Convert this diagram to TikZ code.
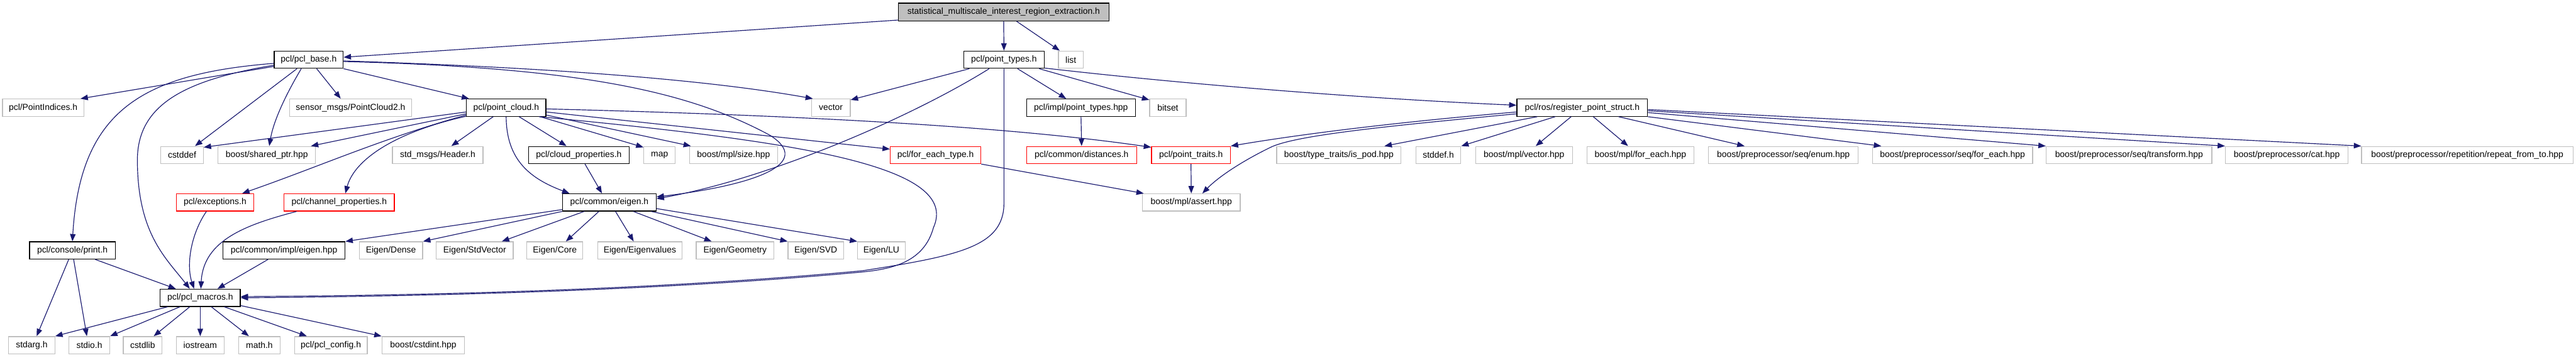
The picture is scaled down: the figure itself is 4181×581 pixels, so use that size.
\documentclass[tikz,border=0pt]{standalone}
\usepackage{fontspec}
\setmainfont{Liberation Sans}
\usetikzlibrary{arrows.meta,calc}
\definecolor{edgec}{RGB}{25,25,112}
\definecolor{greyb}{RGB}{191,191,191}
\newcommand{\fsz}{\fontsize{14.2}{17}\selectfont}
\tikzset{
  box/.style={rectangle, minimum height=28pt, inner sep=0pt, line width=1.3pt, font=\fsz, fill=white},
  bk/.style={box, draw=black},
  gr/.style={box, draw=greyb},
  rd/.style={box, draw=red},
  mainbox/.style={box, draw=black, fill=greyb, minimum height=29pt},
  edge/.style={draw=edgec, line width=1.2pt, -{Triangle[length=12pt,width=9pt]}}
}
\begin{document}
\begin{tikzpicture}[x=1pt,y=-1pt]
\useasboundingbox (0,0) rectangle (4181,581);
% row 0
\node[mainbox, minimum width=342pt] (main) at (1629,19.5) {statistical\_multiscale\_interest\_region\_extraction.h};
% row 1
\node[bk, minimum width=112pt] (pcl_base) at (501,97) {pcl/pcl\_base.h};
\node[bk, minimum width=131pt] (point_types) at (1629.5,97) {pcl/point\_types.h};
\node[gr, minimum width=40pt] (list) at (1738,97) {list};
% row 2
\node[gr, minimum width=132pt] (PointIndices) at (70,175) {pcl/PointIndices.h};
\node[gr, minimum width=198pt] (PointCloud2) at (569,175) {sensor\_msgs/PointCloud2.h};
\node[bk, minimum width=129pt] (point_cloud) at (821.5,175) {pcl/point\_cloud.h};
\node[gr, minimum width=63pt] (vector) at (1348.5,175) {vector};
\node[bk, minimum width=177pt] (impl_pt) at (1754.5,175) {pcl/impl/point\_types.hpp};
\node[gr, minimum width=59pt] (bitset) at (1895.5,175) {bitset};
\node[bk, minimum width=212pt] (register) at (2568,175) {pcl/ros/register\_point\_struct.h};
% row 3
\node[gr, minimum width=69pt] (cstddef) at (295.5,252) {cstddef};
\node[gr, minimum width=158pt] (shared_ptr) at (433,252) {boost/shared\_ptr.hpp};
\node[gr, minimum width=147pt] (Header) at (710.5,252) {std\_msgs/Header.h};
\node[bk, minimum width=163pt] (cloud_props) at (939.5,252) {pcl/cloud\_properties.h};
\node[gr, minimum width=51pt] (map) at (1070.5,252) {map};
\node[gr, minimum width=143pt] (size) at (1190.5,252) {boost/mpl/size.hpp};
\node[rd, minimum width=147pt] (for_each_type) at (1518.5,252) {pcl/for\_each\_type.h};
\node[rd, minimum width=179pt] (distances) at (1755.5,252) {pcl/common/distances.h};
\node[rd, minimum width=128pt] (point_traits) at (1933,252) {pcl/point\_traits.h};
\node[gr, minimum width=202pt] (is_pod) at (2173,252) {boost/type\_traits/is\_pod.hpp};
\node[gr, minimum width=73pt] (stddef) at (2334.5,252) {stddef.h};
\node[gr, minimum width=157pt] (mplvector) at (2473.5,252) {boost/mpl/vector.hpp};
\node[gr, minimum width=173pt] (mplforeach) at (2662.5,252) {boost/mpl/for\_each.hpp};
\node[gr, minimum width=243pt] (seqenum) at (2894.5,252) {boost/preprocessor/seq/enum.hpp};
\node[gr, minimum width=260pt] (seqforeach) at (3169,252) {boost/preprocessor/seq/for\_each.hpp};
\node[gr, minimum width=269pt] (seqtransform) at (3455.5,252) {boost/preprocessor/seq/transform.hpp};
\node[gr, minimum width=199pt] (cat) at (3711.5,252) {boost/preprocessor/cat.hpp};
\node[gr, minimum width=343pt] (repeat) at (4004.5,252) {boost/preprocessor/repetition/repeat\_from\_to.hpp};
% row 4
\node[rd, minimum width=126pt] (exceptions) at (349,329) {pcl/exceptions.h};
\node[rd, minimum width=179pt] (channel) at (550.5,329) {pcl/channel\_properties.h};
\node[bk, minimum width=152pt] (eigen_h) at (989,329) {pcl/common/eigen.h};
\node[gr, minimum width=159pt] (assert) at (1933.5,329) {boost/mpl/assert.hpp};
% row 5
\node[bk, minimum width=139pt] (print) at (117.5,407) {pcl/console/print.h};
\node[bk, minimum width=198pt] (impl_eigen) at (461,407) {pcl/common/impl/eigen.hpp};
\node[gr, minimum width=103pt] (Dense) at (634.5,407) {Eigen/Dense};
\node[gr, minimum width=125pt] (StdVector) at (770.5,407) {Eigen/StdVector};
\node[gr, minimum width=91pt] (Core) at (900.5,407) {Eigen/Core};
\node[gr, minimum width=137pt] (Eigenvalues) at (1038.5,407) {Eigen/Eigenvalues};
\node[gr, minimum width=126pt] (Geometry) at (1193,407) {Eigen/Geometry};
\node[gr, minimum width=90pt] (SVD) at (1324,407) {Eigen/SVD};
\node[gr, minimum width=77pt] (LU) at (1430.5,407) {Eigen/LU};
% row 6
\node[bk, minimum width=130pt] (macros) at (325,484) {pcl/pcl\_macros.h};
% row 7
\node[gr, minimum width=75pt] (stdarg) at (51.5,561) {stdarg.h};
\node[gr, minimum width=66pt] (stdio) at (145,561) {stdio.h};
\node[gr, minimum width=63pt] (cstdlib) at (231.5,561) {cstdlib};
\node[gr, minimum width=78pt] (iostream) at (325,561) {iostream};
\node[gr, minimum width=68pt] (math) at (421,561) {math.h};
\node[gr, minimum width=118pt] (pcl_config) at (537,561) {pcl/pcl\_config.h};
\node[gr, minimum width=134pt] (cstdint) at (687,561) {boost/cstdint.hpp};

% ---- edges: main
\draw[edge] ($(main.south west)+(0,-2)$) -- ($(pcl_base.east)+(0,-4)$);
\draw[edge] (main.south) -- (point_types.north);
\draw[edge] ($(main.south)+(21,0)$) -- ($(list.north)+(-18,0)$);
% ---- pcl_base
\draw[edge] ($(pcl_base.west)+(0,11)$) -- ($(PointIndices.north east)+(-6,0)$);
\draw[edge] ($(pcl_base.south)+(13,0)$) -- ($(PointCloud2.north)+(-16,0)$);
\draw[edge] ($(pcl_base.south)+(-19,0)$) -- ($(cstddef.north)+(21,0)$);
\draw[edge] ($(pcl_base.south)+(-12,0)$) .. controls (472,140) and (445,190) .. ($(shared_ptr.north)+(4,0)$);
\draw[edge] ($(pcl_base.east)+(0,2)$) .. controls (900,110) and (1150,130) .. ($(vector.north west)+(3,0)$);
\draw[edge] ($(pcl_base.east)+(0,3)$) .. controls (950,110) and (1120,150) .. (1250,220) .. controls (1320,265) and (1230,300) .. ($(eigen_h.east)+(0,-9)$);
\draw[edge] (pcl_base.south east) -- ($(point_cloud.north west)+(5,0)$);
\draw[edge] ($(pcl_base.west)+(0,6)$) .. controls (230,120) and (130,180) .. (print.north);
\draw[edge] ($(pcl_base.west)+(0,9)$) .. controls (300,130) and (223,170) .. (223,260) .. controls (223,380) and (270,420) .. ($(macros.north)+(-17,0)$);
% ---- point_types
\draw[edge] ($(point_types.south west)+(10,0)$) -- ($(vector.north east)+(0,2)$);
\draw[edge] ($(point_types.south)+(-24,0)$) .. controls (1480,190) and (1250,290) .. ($(eigen_h.east)+(0,-6)$);
\draw[edge] (point_types.south) -- ($(point_types.south)+(0,218)$) .. controls (1629.5,400) and (1560,415) .. (1400,440) .. controls (1100,468) and (750,480) .. ($(macros.east)+(0,-2)$);
\draw[edge] ($(point_types.south)+(22,0)$) -- ($(impl_pt.north)+(-24,0)$);
\draw[edge] ($(point_types.south east)+(-9,0)$) -- ($(bitset.north west)+(0,2)$);
\draw[edge] ($(point_types.south east)+(0,-1)$) .. controls (1950,140) and (2250,162) .. ($(register.west)+(0,-4)$);
% ---- point_cloud
\draw[edge] ($(point_cloud.south)+(-21,0)$) -- ($(Header.north)+(22,0)$);
\draw[edge] ($(point_cloud.south)+(21,0)$) -- ($(cloud_props.north)+(-20,0)$);
\draw[edge] ($(point_cloud.south east)+(-10,0)$) -- ($(map.north west)+(0,2)$);
\draw[edge] ($(point_cloud.east)+(0,12)$) -- ($(size.north west)+(3,0)$);
\draw[edge] (point_cloud.south) .. controls (822,260) and (860,290) .. ($(eigen_h.north west)+(12,0)$);
\draw[edge] ($(point_cloud.west)+(0,7)$) -- ($(cstddef.north east)+(0,2)$);
\draw[edge] ($(point_cloud.west)+(0,10)$) -- ($(shared_ptr.north east)+(-8,0)$);
\draw[edge] ($(point_cloud.west)+(0,12)$) .. controls (620,225) and (520,270) .. ($(exceptions.north)+(44,0)$);
\draw[edge] ($(point_cloud.west)+(0,14)$) .. controls (640,215) and (575,260) .. ($(channel.north)+(10,0)$);
\draw[edge] ($(point_cloud.east)+(0,2)$) .. controls (1200,185) and (1600,200) .. ($(point_traits.north west)+(0,2)$);
\draw[edge] ($(point_cloud.east)+(0,7)$) -- ($(for_each_type.north west)+(0,5)$);
\draw[edge] ($(point_cloud.south east)+(-12,0)$) .. controls (1300,230) and (1560,270) .. (1515,370) .. controls (1500,425) and (1450,437) .. (1400,442) .. controls (1100,470) and (750,481) .. (macros.east);
% ---- others into eigen / macros
\draw[edge] ($(cloud_props.south)+(10,0)$) -- ($(eigen_h.north)+(-12,0)$);
\draw[edge] ($(exceptions.south)+(-14,0)$) .. controls (310,380) and (302,430) .. ($(macros.north)+(-10,0)$);
\draw[edge] ($(channel.south west)+(21,0)$) .. controls (400,365) and (330,390) .. ($(macros.north)+(1,0)$);
\draw[edge] ($(print.south)+(37,0)$) -- ($(macros.north west)+(26,0)$);
\draw[edge] ($(print.south)+(-6,0)$) -- ($(stdarg.north)+(8,0)$);
\draw[edge] ($(print.south)+(2,0)$) -- ($(stdio.north)+(-4,0)$);
\draw[edge] ($(impl_eigen.south)+(-26,0)$) -- ($(macros.north)+(28,0)$);
% ---- eigen.h
\draw[edge] ($(eigen_h.south west)+(0,-3)$) -- (impl_eigen.north east);
\draw[edge] (eigen_h.south west) -- (Dense.north east);
\draw[edge] ($(eigen_h.south)+(-41,0)$) -- ($(StdVector.north)+(44,0)$);
\draw[edge] ($(eigen_h.south)+(-17,0)$) -- ($(Core.north)+(18,0)$);
\draw[edge] ($(eigen_h.south)+(10,0)$) -- ($(Eigenvalues.north)+(-10,0)$);
\draw[edge] ($(eigen_h.south)+(39,0)$) -- ($(Geometry.north)+(-38,0)$);
\draw[edge] ($(eigen_h.south)+(68,0)$) -- (SVD.north west);
\draw[edge] ($(eigen_h.east)+(0,10)$) -- (LU.north west);
% ---- pcl_macros
\draw[edge] ($(macros.south)+(-53,0)$) -- (stdarg.north east);
\draw[edge] ($(macros.south)+(-33,0)$) -- (stdio.north east);
\draw[edge] ($(macros.south)+(-17,0)$) -- ($(cstdlib.north)+(18,0)$);
\draw[edge] (macros.south) -- (iostream.north);
\draw[edge] ($(macros.south)+(18,0)$) -- ($(math.north)+(-17,0)$);
\draw[edge] ($(macros.south)+(39,0)$) -- ($(pcl_config.north)+(-39,0)$);
\draw[edge] ($(macros.south east)+(0,-2)$) -- (cstdint.north west);
% ---- right part
\draw[edge] (impl_pt.south) -- (distances.north);
\draw[edge] (for_each_type.south east) -- ($(assert.north west)+(3,0)$);
\draw[edge] (point_traits.south) -- (assert.north);
\draw[edge] ($(register.west)+(0,7)$) .. controls (2250,200) and (2100,220) .. (point_traits.north east);
\draw[edge] ($(register.west)+(0,10)$) .. controls (2250,205) and (2100,220) .. (2061,240) .. controls (2010,265) and (1975,290) .. ($(assert.north)+(18,0)$);
\draw[edge] ($(register.south)+(-73,0)$) -- ($(is_pod.north)+(74,0)$);
\draw[edge] ($(register.south)+(-44,0)$) -- (stddef.north east);
\draw[edge] ($(register.south)+(-18,0)$) -- ($(mplvector.north)+(19,0)$);
\draw[edge] ($(register.south)+(18,0)$) -- ($(mplforeach.north)+(-20,0)$);
\draw[edge] ($(register.south)+(59,0)$) -- ($(seqenum.north)+(-63,0)$);
\draw[edge] (register.south east) -- ($(seqforeach.north west)+(15,0)$);
\draw[edge] ($(register.east)+(0,8)$) -- (seqtransform.north west);
\draw[edge] ($(register.east)+(0,5)$) -- (cat.north west);
\draw[edge] ($(register.east)+(0,3)$) -- (repeat.north west);
\end{tikzpicture}
\end{document}
